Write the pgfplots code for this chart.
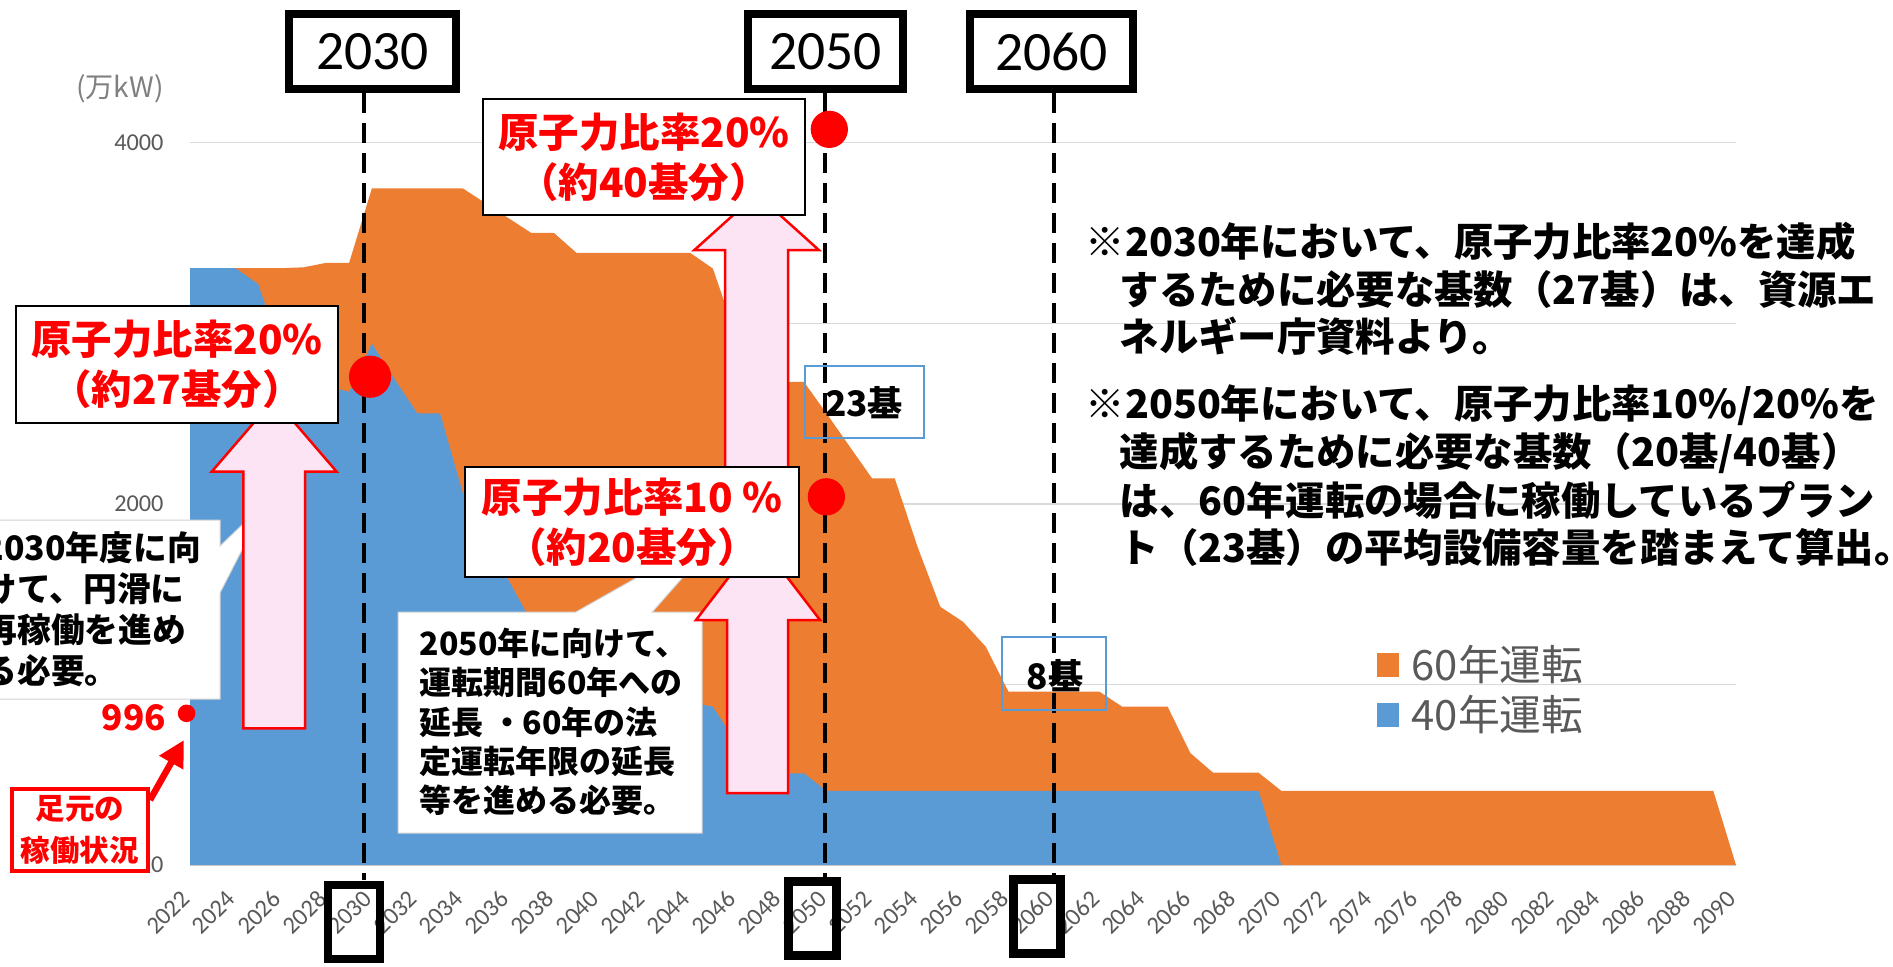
\documentclass[border=0pt]{standalone}
\usepackage{fontspec}
\setmainfont{Carlito}
\newfontfamily\jp{Noto Sans CJK JP}
\usepackage{pgfplots}
\usepackage{pgfplotstable}
\pgfplotsset{compat=1.18}
\usetikzlibrary{arrows.meta}
\definecolor{orange60}{HTML}{ED7D31}
\definecolor{blue40}{HTML}{5B9BD5}
\definecolor{gridgrey}{HTML}{D9D9D9}
\definecolor{tickgrey}{HTML}{595959}
\definecolor{unitgrey}{HTML}{7F7F7F}
\definecolor{pinkfill}{HTML}{FCE4F4}

\pgfplotstableread{
year v
2022 3305
2023 3305
2024 3305
2025 3305
2026 3305
2027 3310
2028 3335
2029 3335
2030 3747
2031 3747
2032 3747
2033 3747
2034 3747
2035 3665
2036 3583
2037 3501
2038 3501
2039 3390
2040 3390
2041 3390
2042 3390
2043 3390
2044 3390
2045 3303
2046 2935
2047 2800
2048 2676
2049 2676
2050 2500
2051 2320
2052 2141
2053 2141
2054 1762
2055 1430
2056 1347
2057 1209
2058 960
2059 960
2060 960
2061 960
2062 960
2063 877
2064 877
2065 877
2066 620
2067 511
2068 511
2069 511
2070 411
2071 411
2072 411
2073 411
2074 411
2075 411
2076 411
2077 411
2078 411
2079 411
2080 411
2081 411
2082 411
2083 411
2084 411
2085 411
2086 411
2087 411
2088 411
2089 411
2090 0
}\sixty

\pgfplotstableread{
year v
2022 3305
2023 3305
2024 3305
2025 3217
2026 2850
2027 2720
2028 2650
2029 2621
2030 2888
2031 2690
2032 2501
2033 2501
2034 2060
2035 1800
2036 1580
2037 1350
2038 1250
2039 1150
2040 1100
2041 1050
2042 1000
2043 950
2044 900
2045 877
2046 680
2047 560
2048 508
2049 508
2050 411
2051 411
2052 411
2053 411
2054 411
2055 411
2056 411
2057 411
2058 411
2059 411
2060 411
2061 411
2062 411
2063 411
2064 411
2065 411
2066 411
2067 411
2068 411
2069 411
2070 0
}\forty

\begin{document}
\begin{tikzpicture}
\useasboundingbox (0,0) rectangle (189.3mm,96.6mm);
\clip (0,0) rectangle (189.3mm,96.6mm);
\begin{axis}[
  at={(19mm,10.1mm)}, anchor=south west,
  scale only axis, width=154.6mm, height=72.23mm,
  xmin=2022, xmax=2090, ymin=0, ymax=4000,
  clip=false,
  axis line style={draw=none},
  tick style={draw=none},
  major tick length=0pt,
  ymajorgrids, grid style={gridgrey, line width=0.15mm},
  xtick={2022,2024,...,2090},
  ytick={0,1000,2000,3000,4000},
  yticklabels={0,{},2000,{},4000},
  xticklabel style={font=\fontsize{7}{8}\selectfont, text=tickgrey, xshift=0.45mm, yshift=-2.1mm, rotate=45, anchor=east},
  yticklabel style={font=\fontsize{6.9}{8}\selectfont, text=tickgrey, xshift=-4pt},
  /pgf/number format/1000 sep={},
  /pgf/number format/assume math mode=true,
]
\addplot[fill=orange60, draw=none] table[x=year,y=v]{\sixty} \closedcycle;
\addplot[fill=blue40, draw=none] table[x=year,y=v]{\forty} \closedcycle;
\addplot[black, line width=0.4mm, dash pattern=on 2mm off 1mm] coordinates {(2029.65,4275) (2029.65,-83)};
\addplot[black, line width=0.4mm, dash pattern=on 2mm off 1mm] coordinates {(2049.92,4275) (2049.92,-83)};
\addplot[black, line width=0.4mm, dash pattern=on 2mm off 1mm] coordinates {(2060.0,4275) (2060.0,-83)};
\addplot[only marks, mark=*, mark options={fill=red, draw=red}, mark size=5.8pt] coordinates {(2029.92,2704)};
\addplot[only marks, mark=*, mark options={fill=red, draw=red}, mark size=5.1pt] coordinates {(2050.12,4074) (2049.99,2039)};
\addplot[only marks, mark=*, mark options={fill=red, draw=red}, mark size=2.3pt] coordinates {(2021.85,840)};
\end{axis}

\begin{scope}[x=0.1mm, y=-0.1mm, yshift=96.6mm]
% callout 2030
\draw[fill=white, draw=gray!35, line width=0.1mm] (-10,520) -- (220,520) -- (220,546) -- (267,501) -- (220,593) -- (220,699) -- (-10,699) -- cycle;
\node[anchor=west, inner sep=0, align=left, font={\jp\bfseries\fontsize{9.6}{11.7}\selectfont}] at (-17,609) {2030年度に向\\けて、円滑に\\再稼働を進め\\る必要。};
% callout 2050
\draw[fill=white, draw=gray!35, line width=0.1mm] (398,612) -- (575.8,612) -- (728,526) -- (652.3,612) -- (702,612) -- (702,833) -- (398,833) -- cycle;
\node[anchor=west, inner sep=0, align=left, font={\jp\bfseries\fontsize{9.1}{11.2}\selectfont}] at (419,722) {2050年に向けて、\\運転期間60年への\\延長 ・60年の法\\定運転年限の延長\\等を進める必要。};
% big arrows
\draw[fill=pinkfill, draw=red, line width=0.25mm] (243.3,728.3) -- (243.3,471.7) -- (211.7,471.7) -- (274.2,399) -- (336.7,471.7) -- (305,471.7) -- (305,728.3) -- cycle;
\draw[fill=pinkfill, draw=red, line width=0.25mm] (725,520) -- (725,250) -- (694.4,250) -- (756.6,194) -- (818.8,250) -- (788.2,250) -- (788.2,520) -- cycle;
\draw[fill=pinkfill, draw=red, line width=0.25mm] (727,793) -- (727,620) -- (696,620) -- (758,539) -- (820,620) -- (788,620) -- (788,793) -- cycle;
% red-text boxes
\draw[fill=white, draw=black, line width=0.2mm] (15.7,305.5) rectangle (338,422.6);
\node[align=center, text=red, font={\jp\bfseries\fontsize{11.5}{14.2}\selectfont}] at (177,364) {原子力比率20\%\\（約27基分）};
\draw[fill=white, draw=black, line width=0.2mm] (483,99) rectangle (805,215);
\node[align=center, text=red, font={\jp\bfseries\fontsize{11.5}{14.2}\selectfont}] at (644,157) {原子力比率20\%\\（約40基分）};
\draw[fill=white, draw=black, line width=0.2mm] (465,467) rectangle (799,577);
\node[align=center, text=red, font={\jp\bfseries\fontsize{11.5}{14.2}\selectfont}] at (632,522) {原子力比率10 \%\\（約20基分）};
% 23 / 8 boxes
\draw[draw=blue40, line width=0.15mm] (805,366) rectangle (924,438);
\node[font={\jp\bfseries\fontsize{10}{12}\selectfont}] at (864,403) {23基};
\draw[draw=blue40, line width=0.15mm] (1002,637) rectangle (1106,710);
\node[font={\jp\bfseries\fontsize{10}{12}\selectfont}] at (1055,676) {8基};
% top boxes
\draw[fill=white, draw=black, line width=0.8mm] (289,14) rectangle (456,89);
\node[font=\fontsize{15.8}{18}\selectfont] at (372.5,51.5) {2030};
\draw[fill=white, draw=black, line width=0.8mm] (748,14) rectangle (903,89);
\node[font=\fontsize{15.8}{18}\selectfont] at (825.5,51.5) {2050};
\draw[fill=white, draw=black, line width=0.8mm] (970,14) rectangle (1133,89);
\node[font=\fontsize{15.8}{18}\selectfont] at (1051.5,51.5) {2060};
% bottom boxes
\draw[draw=black, line width=0.85mm] (328,885) rectangle (380,959);
\draw[draw=black, line width=0.85mm] (788.5,881.5) rectangle (836.5,955.5);
\draw[draw=black, line width=0.85mm] (1013.5,879.5) rectangle (1060.5,953.5);
% unit
\node[text=unitgrey, font={\jp\fontsize{8}{10}\selectfont}] at (120,89) {(万kW)};
% 996 and current status
\node[text=red, font={\jp\bfseries\fontsize{10}{12}\selectfont}] at (134,718) {996};
\draw[fill=white, draw=red, line width=0.4mm] (12,789) rectangle (148,871);
\node[align=center, text=red, font={\jp\bfseries\fontsize{8.4}{12}\selectfont}] at (80,830) {足元の\\稼働状況};
\draw[red, line width=0.65mm, -{Triangle[length=2.6mm,width=2.6mm]}] (150,800) -- (184,740);
% legend
\fill[orange60] (1376.5,653) rectangle (1399.4,677);
\fill[blue40] (1376.5,703) rectangle (1399.4,727);
\node[anchor=west, inner sep=0, text=tickgrey, font={\jp\fontsize{11.9}{14}\selectfont}] at (1411,665) {60年運転};
\node[anchor=west, inner sep=0, text=tickgrey, font={\jp\fontsize{11.9}{14}\selectfont}] at (1411,715) {40年運転};
% notes
\begin{scope}[every node/.style={anchor=west, inner sep=0, font={\jp\bfseries\fontsize{11.2}{13}\selectfont}}]
\node at (1085,241) {※2030年において、原子力比率20\%を達成};
\node at (1119,290) {するために必要な基数（27基）は、資源エ};
\node at (1119,336) {ネルギー庁資料より。};
\node at (1085,405) {※2050年において、原子力比率10\%/20\%を};
\node at (1119,453) {達成するために必要な基数（20基/40基）};
\node at (1119,500) {は、60年運転の場合に稼働しているプラン};
\node at (1119,547) {ト（23基）の平均設備容量を踏まえて算出。};
\end{scope}
\end{scope}
\end{tikzpicture}
\end{document}
